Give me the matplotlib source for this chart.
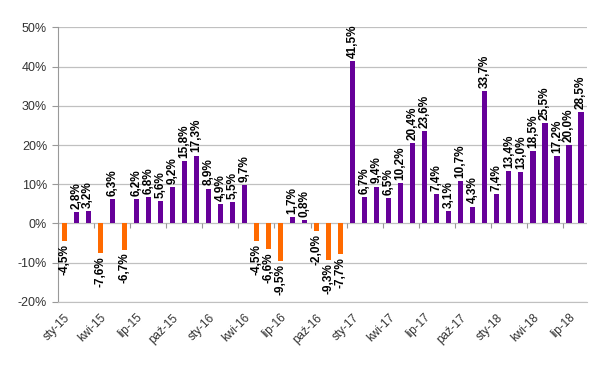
import matplotlib.pyplot as plt
import numpy as np

plt.rcParams['font.family'] = ['Liberation Sans', 'DejaVu Sans']

months = ['sty', 'lut', 'mar', 'kwi', 'maj', 'cze', 'lip', 'sie', 'wrz', 'paź', 'lis', 'gru']
years = ['15', '16', '17', '18']
labels = ['%s-%s' % (m, y) for y in years for m in months][:44]

values = [-4.5, 2.8, 3.2, -7.6, 6.3, -6.7, 6.2, 6.8, 5.6, 9.2, 15.8, 17.3,
          8.9, 4.9, 5.5, 9.7, -4.5, -6.6, -9.5, 1.7, 0.8, -2.0, -9.3, -7.7,
          41.5, 6.7, 9.4, 6.5, 10.2, 20.4, 23.6, 7.4, 3.1, 10.7, 4.3, 33.7,
          7.4, 13.4, 13.0, 18.5, 25.5, 17.2, 20.0, 28.5]

purple = '#660099'
orange = '#FF6A00'

fig = plt.figure(figsize=(5.94, 3.65), dpi=100)
ax = fig.add_axes([0.098, 0.173, 0.89, 0.752])

x = np.arange(len(values))
colors = [purple if v >= 0 else orange for v in values]
ax.bar(x, values, width=0.45, color=colors, zorder=3)

for xi, v in zip(x, values):
    txt = ('%.1f%%' % v).replace('.', ',')
    if v >= 0:
        ax.text(xi, v + 0.8, txt, rotation=90, ha='center', va='bottom',
                fontsize=8.5, fontweight='bold', zorder=4)
    else:
        ax.text(xi, v - 0.8, txt, rotation=90, ha='center', va='top',
                fontsize=8.5, fontweight='bold', zorder=4)

ax.set_ylim(-20, 50)
ax.set_xlim(-0.5, len(values) - 0.5)
ax.set_yticks(np.arange(-20, 51, 10))
ax.set_yticklabels(['%d%%' % t for t in np.arange(-20, 51, 10)], fontsize=9, color='#333333')
ax.yaxis.grid(True, color='#c0c0c0', linewidth=0.9, zorder=0)
ax.tick_params(axis='y', length=4, color='#999999', pad=4)

ax.set_xticks(x[::3])
ax.set_xticklabels(labels[::3], rotation=45, ha='right', rotation_mode='anchor',
                   fontsize=8.5, color='#333333')
ax.tick_params(axis='x', length=0, pad=7)

# category tick marks on the zero line
bounds = np.arange(-0.5, len(values), 3)
ax.vlines(bounds, -1.2, 0, color='#999999', linewidth=0.8, zorder=2)

for s in ['top', 'right']:
    ax.spines[s].set_visible(False)
ax.spines['left'].set_color('#999999')
ax.spines['bottom'].set_color('#c0c0c0')

plt.savefig('out.png', dpi=100)
plt.close()
